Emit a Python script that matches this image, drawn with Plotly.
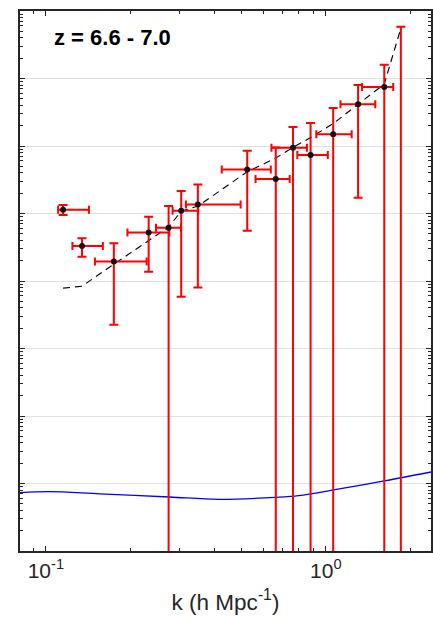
import plotly.graph_objects as go

# ---- data ----
k = [0.1152, 0.1346, 0.1749, 0.2329, 0.2744, 0.3044, 0.3490, 0.5239, 0.6625, 0.7633, 0.8822, 1.0624, 1.3039, 1.6171]
k_lo = [0.1106, 0.1244, 0.1497, 0.1956, 0.2474, 0.2836, 0.3164, 0.4249, 0.5610, 0.6395, 0.7911, 0.9245, 1.1280, 1.3472]
k_hi = [0.1425, 0.1598, 0.2291, 0.2760, 0.3037, 0.3499, 0.4963, 0.6359, 0.7430, 0.8560, 1.0165, 1.2370, 1.5020, 1.7406]
delta2 = [11340, 3286, 1948, 5242, 6135, 10965, 13632, 45010, 32330, 94100, 73370, 148700, 414000, 747000]
delta2_hi = [13310, 4315, 3639, 8933, 12866, 21478, 26977, 84940, 95410, 190800, 218700, 364900, 799800, 1600000]
delta2_lo = [9462, 2280, 224, 1366, -5000, 582, 802, 5538, -30000, -60000, -80000, -150000, 17080, -700000]

# last bin: negative central value, only the upper bound is visible
k_last = [1.8535]
delta2_last_hi = [5853000]
delta2_last_lo = [-4000000]

# model (dashed)
k_model = [0.1152, 0.1346, 0.1749, 0.2329, 0.2744, 0.3044, 0.3490, 0.5239, 0.6625, 0.7633, 0.8822, 1.0624, 1.3039, 1.6171, 1.8535]
model = [783, 838, 1776, 4031, 6283, 10846, 12866, 41470, 66220, 95410, 133300, 214900, 414000, 827800, 5540000]

# noise curve (blue)
k_noise = [0.0808, 0.1033, 0.1556, 0.276, 0.4156, 0.6625, 0.80, 1.065, 1.617, 2.376]
noise = [0.7335, 0.759, 0.704, 0.631, 0.5836, 0.6247, 0.662, 0.8017, 1.090, 1.482]

x_tickvals = [0.1, 1]
x_ticktext = ["10<sup>-1</sup>", "10<sup>0</sup>"]
x_minor = [0.09, 0.2, 0.3, 0.4, 0.5, 0.6, 0.7, 0.8, 0.9, 2]

AX = "#262626"
FONT = "Liberation Sans, Arial, Helvetica, sans-serif"

fig = go.Figure()

fig.add_trace(go.Scatter(
    x=k_noise, y=noise, mode="lines",
    line=dict(color="#0000ff", width=1.3, shape="spline"),
    showlegend=False, hoverinfo="skip"))

fig.add_trace(go.Scatter(
    x=k_model, y=model, mode="lines",
    line=dict(color="#000000", width=1.1, dash="7px,5px"),
    showlegend=False, hoverinfo="skip"))

fig.add_trace(go.Scatter(
    x=k_last, y=delta2_last_hi, mode="markers",
    marker=dict(size=1, opacity=0),
    error_y=dict(type="data", symmetric=False,
                 array=[0],
                 arrayminus=[h - l for h, l in zip(delta2_last_hi, delta2_last_lo)],
                 color="#ff0000", thickness=2, width=4.5),
    showlegend=False, hoverinfo="skip"))

fig.add_trace(go.Scatter(
    x=k, y=delta2, mode="markers",
    marker=dict(color="#111111", size=6),
    error_y=dict(type="data", symmetric=False,
                 array=[h - v for h, v in zip(delta2_hi, delta2)],
                 arrayminus=[v - l for v, l in zip(delta2, delta2_lo)],
                 color="#ff0000", thickness=2, width=4.5),
    error_x=dict(type="data", symmetric=False,
                 array=[h - v for h, v in zip(k_hi, k)],
                 arrayminus=[v - l for v, l in zip(k, k_lo)],
                 color="#ff0000", thickness=2, width=4),
    showlegend=False, hoverinfo="skip"))

fig.add_annotation(
    text="<b>z = 6.6 - 7.0</b>", xref="paper", yref="paper",
    x=(52 - 20) / 413, y=1 - (37.5 - 11) / 540, xanchor="left", yanchor="middle",
    showarrow=False, font=dict(family=FONT, size=22, color="#000000"))

fig.update_layout(
    width=433, height=617,
    margin=dict(l=20, r=0, t=11, b=66),
    paper_bgcolor="white", plot_bgcolor="white",
    font=dict(family=FONT, color=AX),
    showlegend=False,
)

fig.update_xaxes(
    type="log", range=[-1.0924, 0.3757],
    tickmode="array", tickvals=x_tickvals, ticktext=x_ticktext,
    ticks="inside", ticklen=5, tickwidth=1, tickcolor=AX,
    tickfont=dict(family=FONT, size=21, color=AX),
    showline=True, linecolor=AX, linewidth=1.6, mirror="ticks",
    showgrid=False, zeroline=False,
    minor=dict(tickmode="array", tickvals=x_minor, ticks="inside", ticklen=3, tickcolor=AX, showgrid=False),
    title=dict(text="k (h Mpc<sup>-1</sup>)", font=dict(family=FONT, size=22.5, color=AX), standoff=13),
)

fig.update_yaxes(
    type="log", range=[-1, 7], dtick=1,
    showticklabels=False,
    ticks="inside", ticklen=5, tickwidth=1, tickcolor=AX,
    showline=True, linecolor=AX, linewidth=1.6, mirror="ticks",
    showgrid=True, gridcolor="#e2e2e2", gridwidth=1.3, zeroline=False,
    minor=dict(ticks="inside", ticklen=3, tickcolor=AX, showgrid=False),
)

fig.write_html(
    "out.html",
    config={"displayModeBar": False},
    post_script="document.body.style.margin='0';document.body.style.overflow='hidden';",
)
